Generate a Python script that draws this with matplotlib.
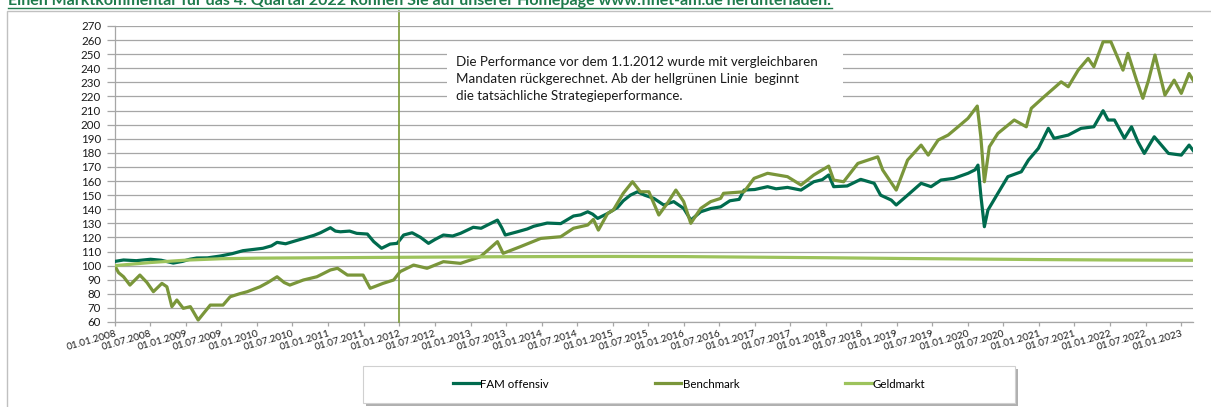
import numpy as np
import pandas as pd
import matplotlib
matplotlib.use("Agg")
import matplotlib.pyplot as plt
import matplotlib.dates as mdates
from matplotlib.patches import Rectangle
from matplotlib.lines import Line2D

plt.rcParams['font.family'] = ['Lato', 'DejaVu Sans']

fam_t = [0.00, 0.12, 0.30, 0.50, 0.65, 0.82, 0.95, 1.05, 1.15, 1.30, 1.48, 1.65, 1.80, 1.95,
         2.08, 2.20, 2.28, 2.40, 2.50, 2.60, 2.70, 2.80, 2.89, 3.03, 3.10, 3.17, 3.30, 3.40,
         3.55, 3.64, 3.75, 3.87, 3.97, 4.06, 4.18, 4.30, 4.41, 4.50, 4.62, 4.75, 4.86, 5.04,
         5.15, 5.24, 5.38, 5.44, 5.49, 5.66, 5.80, 5.89, 6.08, 6.27, 6.45, 6.55, 6.65, 6.72,
         6.79, 6.93, 7.07, 7.15, 7.25, 7.35, 7.45, 7.58, 7.72, 7.86, 8.00, 8.10, 8.24, 8.38,
         8.52, 8.65, 8.78, 8.85, 9.00, 9.18, 9.30, 9.46, 9.65, 9.83, 9.95, 10.04, 10.11, 10.30,
         10.49, 10.68, 10.77, 10.92, 10.99, 11.15, 11.34, 11.48, 11.62, 11.80, 12.00, 12.10,
         12.14, 12.18, 12.23, 12.28, 12.42, 12.56, 12.75, 12.85, 12.99, 13.13, 13.21, 13.41,
         13.59, 13.77, 13.90, 13.97, 14.06, 14.20, 14.30, 14.39, 14.48, 14.62, 14.82, 15.00,
         15.11, 15.18]
fam_v = [103.0, 104.0, 103.5, 104.5, 103.8, 101.8, 103.0, 104.5, 105.4, 105.5, 106.8, 108.5,
         110.6, 111.5, 112.3, 114.0, 116.5, 115.5, 117.0, 118.5, 120.0, 121.5, 123.3, 126.9,
         124.5, 124.0, 124.5, 122.9, 122.4, 117.0, 112.3, 115.3, 115.8, 121.7, 123.3, 120.0,
         115.8, 118.5, 121.7, 121.0, 122.9, 127.2, 126.5, 128.8, 132.3, 127.0, 121.7, 124.0,
         126.0, 127.9, 130.2, 129.8, 135.2, 136.0, 138.2, 136.5, 133.5, 137.0, 141.3, 146.0,
         150.0, 152.4, 150.0, 147.7, 143.0, 145.4, 140.6, 132.3, 138.2, 140.5, 141.7, 146.0,
         147.0, 153.6, 154.0, 156.0, 154.5, 155.5, 153.6, 159.5, 161.0, 164.3, 156.0, 156.5,
         161.2, 158.4, 150.0, 146.5, 143.0, 150.0, 158.4, 156.0, 160.7, 161.9, 165.5, 168.0,
         171.3, 150.0, 127.6, 139.4, 151.3, 163.1, 166.6, 174.9, 183.2, 197.4, 190.3, 192.6,
         197.4, 198.5, 209.9, 203.3, 203.3, 190.3, 198.5, 187.9, 179.6, 191.4, 179.6, 178.4,
         185.5, 180.8]

bench_t = [0.00, 0.05, 0.12, 0.21, 0.35, 0.45, 0.54, 0.66, 0.73, 0.80, 0.87, 0.96, 1.06, 1.17,
           1.34, 1.52, 1.62, 1.75, 1.86, 2.04, 2.15, 2.28, 2.38, 2.46, 2.65, 2.84, 3.03, 3.13,
           3.27, 3.49, 3.59, 3.77, 3.92, 4.01, 4.20, 4.39, 4.62, 4.86, 5.14, 5.38, 5.46, 5.70,
           5.99, 6.27, 6.45, 6.65, 6.73, 6.80, 6.93, 7.01, 7.15, 7.28, 7.39, 7.51, 7.65, 7.77,
           7.89, 8.00, 8.10, 8.24, 8.38, 8.52, 8.56, 8.85, 8.99, 9.18, 9.46, 9.65, 9.83, 10.04,
           10.11, 10.25, 10.45, 10.73, 10.80, 10.99, 11.15, 11.34, 11.44, 11.58, 11.72, 11.86,
           12.00, 12.13, 12.18, 12.23, 12.30, 12.42, 12.65, 12.82, 12.89, 13.07, 13.31, 13.41,
           13.55, 13.69, 13.77, 13.90, 14.01, 14.11, 14.18, 14.25, 14.37, 14.46, 14.54, 14.63,
           14.77, 14.90, 15.00, 15.11, 15.18]
bench_v = [99.7, 95.0, 92.1, 86.2, 93.3, 88.0, 81.5, 87.4, 85.0, 70.9, 75.6, 69.7, 70.9, 61.4,
           72.0, 72.0, 77.9, 80.0, 81.5, 85.0, 88.0, 92.1, 88.0, 86.2, 89.8, 92.1, 96.9, 98.1,
           93.3, 93.3, 83.9, 87.4, 89.8, 95.7, 100.4, 98.1, 102.8, 101.6, 106.3, 117.0, 108.7,
           113.4, 119.3, 120.5, 126.5, 128.8, 132.8, 125.2, 137.0, 139.4, 151.3, 159.5, 152.4,
           152.4, 135.9, 144.2, 153.6, 145.4, 130.0, 140.6, 145.4, 147.7, 151.3, 152.4, 161.9,
           165.5, 163.1, 157.2, 164.3, 170.6, 160.7, 159.5, 172.5, 177.2, 167.8, 153.6, 174.9,
           185.5, 178.4, 189.1, 192.6, 198.5, 204.5, 213.2, 191.4, 159.5, 184.3, 193.8, 203.3,
           198.5, 211.6, 219.8, 230.4, 226.9, 238.7, 247.0, 241.1, 258.8, 258.8, 247.0, 238.7,
           250.6, 231.6, 218.7, 231.6, 249.4, 221.0, 231.6, 222.2, 236.3, 230.4]

geld_t = [0.0, 0.5, 1.0, 1.5, 2.0, 3.0, 4.0, 5.0, 6.0, 7.0, 8.0, 9.0, 10.0, 11.0, 12.0,
          13.0, 14.0, 15.18]
geld_v = [100.0, 102.2, 103.9, 104.9, 105.3, 105.6, 105.9, 106.2, 106.4, 106.5, 106.4,
          106.0, 105.6, 105.1, 104.7, 104.3, 104.0, 103.8]

series_names = ['FAM offensiv', 'Benchmark', 'Geldmarkt']
colors = ['#006B4E', '#7A963A', '#9DC35C']
start = pd.Timestamp('2008-01-01')
start_real = pd.Timestamp('2012-01-01')


def to_dates(t):
    return start + pd.to_timedelta(np.array(t) * 365.25, unit='D')


W, H = 1211, 407
fig = plt.figure(figsize=(W / 100, H / 100), dpi=100)


def fx(px):
    return px / W


def fy(py):
    return 1 - py / H


# Rahmen
fig.patches.append(Rectangle((fx(6.5), fy(430)), fx(1230), (430 - 11.5) / H, transform=fig.transFigure,
                             fill=False, ec='#C0C0C0', lw=1, zorder=0))

ax = fig.add_axes([fx(115), fy(322), fx(1193) - fx(115), (322 - 26) / H])
ax.set_facecolor('none')

for tt, vv, name, c in zip([fam_t, bench_t, geld_t], [fam_v, bench_v, geld_v], series_names, colors):
    ax.plot(to_dates(tt), vv, color=c, lw=2.3, label=name, zorder=3,
            solid_joinstyle='round')

ax.axvline(start_real, ymin=0, ymax=(322 - 11) / 296, color='#7A9A35', lw=1.2, clip_on=False, zorder=4)

ax.set_ylim(60, 270)
ax.set_yticks(np.arange(60, 271, 10))
ax.set_xlim(start, pd.Timestamp('2023-03-02'))
ax.set_xticks(pd.date_range('2008-01-01', '2023-01-01', freq='6MS'))
ax.xaxis.set_major_formatter(mdates.DateFormatter('%d.%m.%Y'))
ax.grid(axis='y', color='#A6A6A6', lw=0.9)
ax.set_axisbelow(True)
for s in ['top', 'right']:
    ax.spines[s].set_visible(False)
for s in ['left', 'bottom']:
    ax.spines[s].set_color('#A6A6A6')
    ax.spines[s].set_linewidth(0.9)
ax.tick_params(axis='y', length=6, width=0.9, color='#A6A6A6', pad=4, labelsize=8.3, labelcolor='#1a1a1a')
ax.tick_params(axis='x', length=3, width=0.9, color='#A6A6A6', pad=2, labelsize=7.3, labelcolor='#1a1a1a')
for lab in ax.get_xticklabels():
    lab.set_rotation(16)
    lab.set_ha('right')
    lab.set_rotation_mode('anchor')

# Textkasten
fig.patches.append(Rectangle((fx(447), fy(106)), fx(843) - fx(447), (106 - 44) / H, transform=fig.transFigure,
                             fc='white', ec='none', zorder=5))
fig.text(fx(456), fy(79), 'Die Performance vor dem 1.1.2012 wurde mit vergleichbaren\n'
         'Mandaten rückgerechnet. Ab der hellgrünen Linie  beginnt\n'
         'die tatsächliche Strategieperformance.',
         fontsize=9.6, va='center', ha='left', linespacing=1.52, color='#1a1a1a', zorder=6)
# Legend-Kasten mit Schatten
fig.patches.append(Rectangle((fx(366), fy(406)), fx(1018) - fx(366), (406 - 369) / H, transform=fig.transFigure,
                             fc='#B0B0B0', ec='none', zorder=5))
fig.patches.append(Rectangle((fx(363), fy(403)), fx(1015) - fx(363), (403 - 366) / H, transform=fig.transFigure,
                             fc='white', ec='#D0D0D0', lw=0.8, zorder=6))
leg = fig.legend(loc='center', bbox_to_anchor=(fx(689), fy(384)), ncol=3, frameon=False,
                 fontsize=8.3, handlelength=2.3, handletextpad=0.1, columnspacing=9.2)
leg.set_zorder(7)

# Kopfzeile
fig.text(fx(8), fy(4.5), 'Einen Marktkommentar für das 4. Quartal 2022 können Sie auf unserer Homepage '
         'www.finet-am.de herunterladen.', fontsize=11.5, fontweight='bold', color='#1E7B4C',
         va='baseline', ha='left')
fig.add_artist(Line2D([fx(8), fx(832)], [fy(7.5), fy(7.5)], color='#1E7B4C', lw=1, transform=fig.transFigure))

fig.savefig('out.png', dpi=100)
